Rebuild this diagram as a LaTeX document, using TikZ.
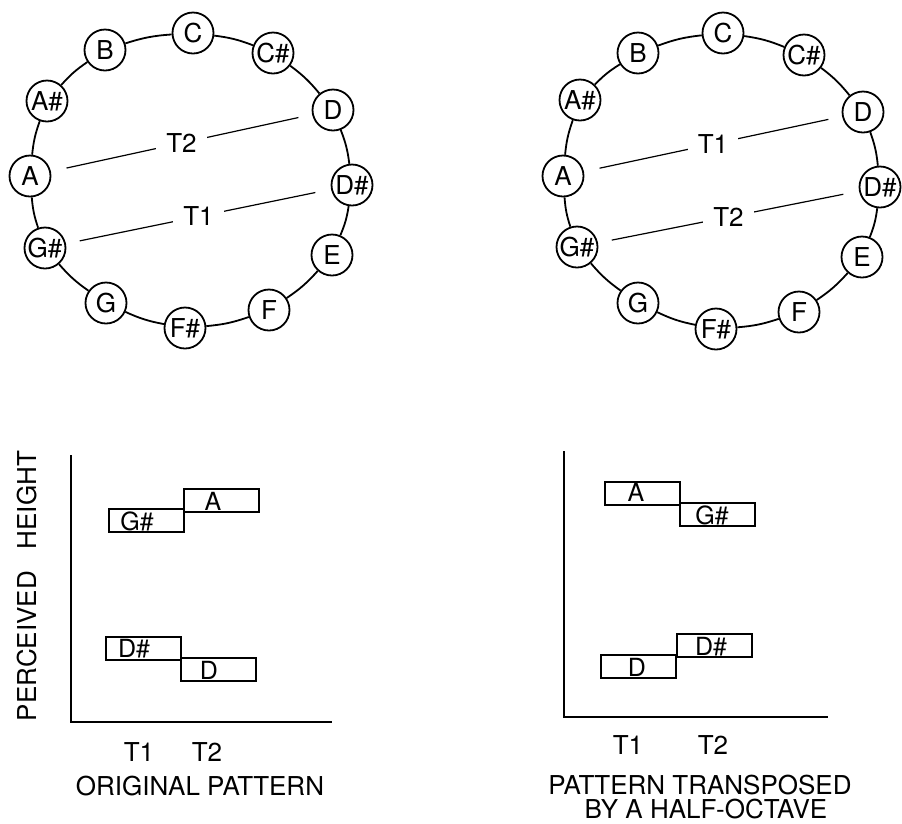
\documentclass[tikz,border=0pt]{standalone}
\usepackage{fontspec}
\setmainfont{TeX Gyre Heros}
\begin{document}
\begin{tikzpicture}[x=1pt,y=-1pt,
  note/.style={circle,draw,line width=1.8pt,minimum size=41pt,inner sep=0pt,fill=white,font=\fontsize{26}{26}\selectfont},
  ring/.style={line width=1.8pt},
  arcto/.style={bend left=7},
  tline/.style={line width=1.2pt},
  tlab/.style={fill=white,inner xsep=10pt,inner ysep=1pt,font=\fontsize{26}{26}\selectfont},
  pbox/.style={draw,line width=1.6pt,minimum width=75pt,minimum height=23pt,inner sep=0pt,anchor=north west},
  btxt/.style={anchor=base,inner sep=0pt,font=\fontsize{25}{25}\selectfont},
  axis/.style={line width=2.6pt},
  captxt/.style={inner sep=0pt,font=\fontsize{26}{26}\selectfont}]
\useasboundingbox (0,0) rectangle (902,823);
% ---------- left circle ----------
\node[note] (lC)  at (193,33)  {C};
\node[note] (lCs) at (273,53)  {C\#};
\node[note] (lD)  at (333,110) {D};
\node[note] (lDs) at (352,185) {D\#};
\node[note] (lE)  at (332,255) {E};
\node[note] (lF)  at (269,310) {F};
\node[note] (lFs) at (185,328) {F\#};
\node[note] (lG)  at (106,303) {G};
\node[note] (lGs) at (45,248)  {G\#};
\node[note] (lA)  at (30,176)  {A};
\node[note] (lAs) at (47,101)  {A\#};
\node[note] (lB)  at (105,50)  {B};
\draw[ring] (lC) to[arcto] (lCs) (lCs) to[arcto] (lD) (lD) to[arcto] (lDs)
  (lDs) to[arcto] (lE) (lE) to[arcto] (lF) (lF) to[arcto] (lFs)
  (lFs) to[arcto] (lG) (lG) to[arcto] (lGs) (lGs) to[arcto] (lA)
  (lA) to[arcto] (lAs) (lAs) to[arcto] (lB) (lB) to[arcto] (lC);
\draw[tline,shorten <=16pt,shorten >=14pt] (lA) -- node[tlab] (lT2) {T2} (lD);
\draw[tline,shorten <=14pt,shorten >=16pt] (lGs) -- node[tlab] (lT1) {T1} (lDs);
% ---------- right circle ----------
\node[note] (rC)  at (723,33)  {C};
\node[note] (rCs) at (804,55)  {C\#};
\node[note] (rD)  at (863,112) {D};
\node[note] (rDs) at (880,187) {D\#};
\node[note] (rE)  at (862,257) {E};
\node[note] (rF)  at (799,312) {F};
\node[note] (rFs) at (716,329) {F\#};
\node[note] (rG)  at (638,303) {G};
\node[note] (rGs) at (577,247) {G\#};
\node[note] (rA)  at (563,176) {A};
\node[note] (rAs) at (580,100) {A\#};
\node[note] (rB)  at (638,53)  {B};
\draw[ring] (rC) to[arcto] (rCs) (rCs) to[arcto] (rD) (rD) to[arcto] (rDs)
  (rDs) to[arcto] (rE) (rE) to[arcto] (rF) (rF) to[arcto] (rFs)
  (rFs) to[arcto] (rG) (rG) to[arcto] (rGs) (rGs) to[arcto] (rA)
  (rA) to[arcto] (rAs) (rAs) to[arcto] (rB) (rB) to[arcto] (rC);
\draw[tline,shorten <=16pt,shorten >=14pt] (rA) -- node[tlab] (rT1) {T1} (rD);
\draw[tline,shorten <=14pt,shorten >=16pt] (rGs) -- node[tlab] (rT2) {T2} (rDs);
% ---------- left graph ----------
\coordinate (lyt) at (71,455);
\coordinate (lo)  at (71,722);
\coordinate (lxr) at (332,722);
\draw[axis] (lyt) -- (lo) -- (lxr);
\node[pbox] (lbGs) at (108,508) {};
\node[pbox] (lbA)  at (183,488) {};
\node[pbox] (lbDs) at (105,636) {};
\node[pbox] (lbD)  at (180,657) {};
\node[btxt] (ltGs) at (137,530) {G\#};
\node[btxt] (ltA)  at (213,510) {A};
\node[btxt] (ltDs) at (134,657) {D\#};
\node[btxt] (ltD)  at (209,679) {D};
\node[captxt] (lx1) at (139,752) {T1};
\node[captxt] (lx2) at (207,752) {T2};
\node[captxt] (lcap) at (200,786) {ORIGINAL PATTERN};
\node[captxt,rotate=90] (ylab) at (27,586) {PERCEIVED\hspace{22pt}HEIGHT};
% ---------- right graph ----------
\coordinate (ryt) at (564,451);
\coordinate (ro)  at (564,717);
\coordinate (rxr) at (828,717);
\draw[axis] (ryt) -- (ro) -- (rxr);
\node[pbox] (rbA)  at (604,481) {};
\node[pbox] (rbGs) at (679,502) {};
\node[pbox] (rbDs) at (676,633) {};
\node[pbox] (rbD)  at (600,654) {};
\node[btxt] (rtA)  at (636,501) {A};
\node[btxt] (rtGs) at (712,524) {G\#};
\node[btxt] (rtDs) at (711,655) {D\#};
\node[btxt] (rtD)  at (637,676) {D};
\node[captxt] (rx1) at (628,745) {T1};
\node[captxt] (rx2) at (713,745) {T2};
\node[captxt] (rcap1) at (700,785) {PATTERN TRANSPOSED};
\node[captxt] (rcap2) at (706,809) {BY A HALF-OCTAVE};
\end{tikzpicture}
\end{document}
